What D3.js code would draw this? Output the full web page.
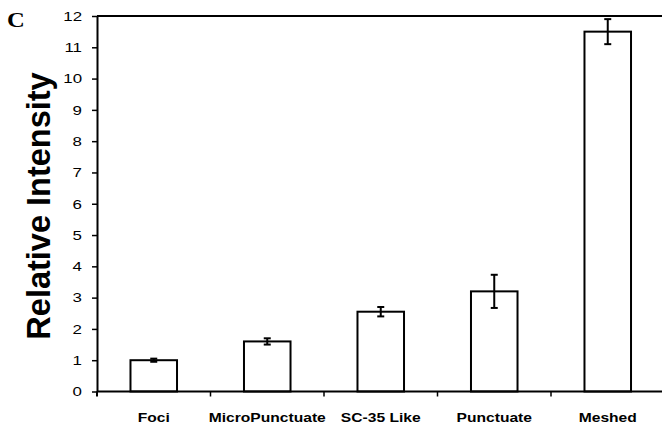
<!DOCTYPE html>
<html><head><meta charset="utf-8">
<script src="https://cdn.jsdelivr.net/npm/d3@7"></script>
<style>body{margin:0;background:#fff}</style>
</head><body>
<svg id="c" width="662" height="431"></svg>
<script>
const categories = ["Foci", "MicroPunctuate", "SC-35 Like", "Punctuate", "Meshed"];
const values = [1.0, 1.6, 2.55, 3.2, 11.5];
const errors = [0.05, 0.1, 0.15, 0.53, 0.4];
const yTicks = [0,1,2,3,4,5,6,7,8,9,10,11,12];

(function(){
const svg = d3.select("#c");
const mL = 97, mR = 664.5, mT = 16, mB = 391.5;
const x = d3.scaleBand().domain(categories).range([mL, mR]).paddingInner(0.59).paddingOuter(0.295);
const xb = d3.scaleBand().domain(categories).range([mL, mR]);
const y = d3.scaleLinear().domain([0, 12]).range([mB, mT]);
const sx = 1.25;

// top frame line
svg.append("line").attr("x1", mL).attr("x2", 662).attr("y1", y(12)).attr("y2", y(12))
  .attr("stroke", "#000").attr("stroke-width", 2);

// bars
svg.selectAll("rect.bar").data(categories).enter().append("rect")
  .attr("x", d => x(d)).attr("width", x.bandwidth())
  .attr("y", (d,i) => y(values[i])).attr("height", (d,i) => y(0) - y(values[i]))
  .attr("fill", "#fff").attr("stroke", "#000").attr("stroke-width", 2);

// error bars
const eg = svg.selectAll("g.err").data(categories).enter().append("g")
  .attr("stroke", "#000").attr("stroke-width", 2);
eg.append("line").attr("x1", d => x(d) + x.bandwidth()/2).attr("x2", d => x(d) + x.bandwidth()/2)
  .attr("y1", (d,i) => y(values[i] + errors[i])).attr("y2", (d,i) => y(values[i] - errors[i]));
eg.append("line").attr("x1", d => x(d) + x.bandwidth()/2 - 3.5).attr("x2", d => x(d) + x.bandwidth()/2 + 3.5)
  .attr("y1", (d,i) => y(values[i] + errors[i])).attr("y2", (d,i) => y(values[i] + errors[i]));
eg.append("line").attr("x1", d => x(d) + x.bandwidth()/2 - 3.5).attr("x2", d => x(d) + x.bandwidth()/2 + 3.5)
  .attr("y1", (d,i) => y(values[i] - errors[i])).attr("y2", (d,i) => y(values[i] - errors[i]));

// y axis
const ya = svg.append("g").attr("transform", `translate(${mL},0)`)
  .call(d3.axisLeft(y).tickValues(yTicks).tickSize(5).tickPadding(6).tickSizeOuter(0));
ya.select(".domain").attr("stroke-width", 2);
ya.selectAll(".tick line").attr("stroke-width", 1.5);
ya.selectAll("text").attr("font-family", "Liberation Sans, Arial, sans-serif").attr("font-size", 13.5)
  .attr("fill", "#000").attr("x", -15 / sx).attr("transform", `scale(${sx},1)`);

// x axis
svg.append("line").attr("x1", mL).attr("x2", 662).attr("y1", mB).attr("y2", mB)
  .attr("stroke", "#000").attr("stroke-width", 2);
svg.selectAll("line.xt").data(categories).enter().append("line")
  .attr("x1", d => xb(d) + xb.bandwidth()).attr("x2", d => xb(d) + xb.bandwidth())
  .attr("y1", mB).attr("y2", mB + 5).attr("stroke", "#000").attr("stroke-width", 1.5);
svg.append("line").attr("x1", mL).attr("x2", mL).attr("y1", mB).attr("y2", mB + 5)
  .attr("stroke", "#000").attr("stroke-width", 2);
svg.selectAll("text.xl").data(categories).enter().append("text")
  .attr("transform", d => `translate(${xb(d) + xb.bandwidth()/2},422) scale(${sx},1)`)
  .attr("text-anchor", "middle").attr("font-family", "Liberation Sans, Arial, sans-serif")
  .attr("font-weight", "bold").attr("font-size", 12.5).text(d => d);

// y title
svg.append("text").attr("transform", `translate(50,206) rotate(-90)`)
  .attr("text-anchor", "middle").attr("font-family", "Liberation Sans, Arial, sans-serif")
  .attr("font-weight", "bold").attr("font-size", 32.5).text("Relative Intensity");

// panel letter
svg.append("text").attr("transform", "translate(7,27) scale(1.2,1)").attr("font-family", "Liberation Serif, Times New Roman, serif")
  .attr("font-weight", "bold").attr("font-size", 20.5).text("C");
})();
</script>
</body></html>
